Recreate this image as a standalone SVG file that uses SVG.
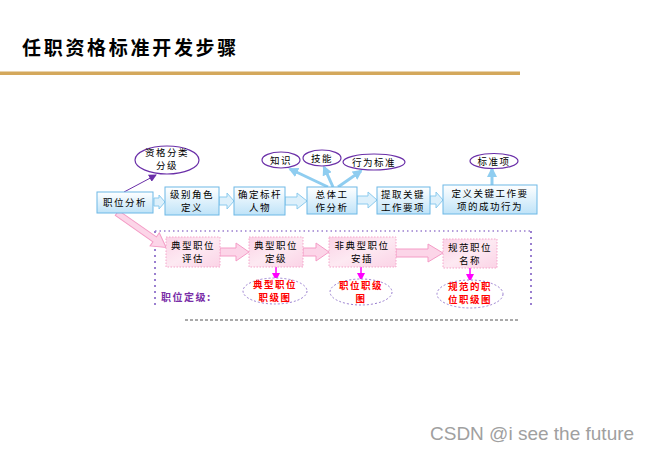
<svg xmlns="http://www.w3.org/2000/svg" width="650" height="450" viewBox="0 0 650 450">
<defs>
<linearGradient id="gb" x1="0" y1="0" x2="0" y2="1"><stop offset="0" stop-color="#FFFFFF"/><stop offset="1" stop-color="#BFE3F8"/></linearGradient>
<linearGradient id="gp" x1="0" y1="0" x2="1" y2="1"><stop offset="0" stop-color="#FBD3E6"/><stop offset="0.5" stop-color="#FDE9F2"/><stop offset="1" stop-color="#FBD3E6"/></linearGradient>
<marker id="mp" markerWidth="8" markerHeight="8" refX="7" refY="4" orient="auto" markerUnits="userSpaceOnUse"><path d="M0,0 L8,4 L0,8 Z" fill="#6A2FA8"/></marker>
<marker id="mb" markerWidth="10" markerHeight="10" refX="8" refY="5" orient="auto" markerUnits="userSpaceOnUse"><path d="M0,0 L10,5 L0,10 Z" fill="#8FCDF0"/></marker>
<marker id="mm" markerWidth="8" markerHeight="8" refX="6" refY="4" orient="auto" markerUnits="userSpaceOnUse"><path d="M0,0 L8,4 L0,8 Z" fill="#FF00FF"/></marker>
</defs>
<style>
text{font-family:"Noto Sans CJK SC","Liberation Sans",sans-serif;text-anchor:middle;}
.t{font-size:9.5px;fill:#000;letter-spacing:1.5px;}
.r{font-size:9.5px;fill:#FF0000;font-weight:bold;letter-spacing:1.5px;}
.bb{fill:url(#gb);stroke:#6DB8E6;stroke-width:1;}
.pb{fill:url(#gp);stroke:#F4A6CB;stroke-width:1;stroke-dasharray:1.5 1.5;}
.ba{fill:#DDF0FB;stroke:#8CCBEE;stroke-width:1;}
.pa{fill:#FCD5E8;stroke:#F49CC6;stroke-width:1;}
.el{fill:#FFFFFF;stroke:#6A2FA8;stroke-width:1.2;}
.ed{fill:#FFFFFF;stroke:#9A7FD0;stroke-width:1;stroke-dasharray:2 2;}
.bl{stroke:#8FCDF0;stroke-width:3;fill:none;}
</style>
<rect width="650" height="450" fill="#FFFFFF"/>
<g id="title">
<text x="22" y="55" style="text-anchor:start;font-size:19px;font-weight:bold;letter-spacing:2.7px;fill:#000;font-family:'Noto Sans CJK SC',serif">任职资格标准开发步骤</text>
<rect x="0" y="71.5" width="520" height="3.5" fill="#D4A85C"/>
</g>
<g id="frame">
<path d="M155,231 H531" stroke="#9A7FD0" stroke-width="1.5" stroke-dasharray="1.5 3" fill="none"/>
<path d="M155,231 V308" stroke="#9A7FD0" stroke-width="2" stroke-dasharray="2 4" fill="none"/>
<path d="M531,231 V309" stroke="#9A7FD0" stroke-width="2" stroke-dasharray="2 4" fill="none"/>
<path d="M185,320 H518" stroke="#555" stroke-width="1" stroke-dasharray="3 2" fill="none"/>
</g>
<g id="connectors">
<path d="M154,198 H159 V195 L165,202 L159,209 V206 H154 Z" class="ba"/>
<path d="M219,197 H227 V193 L234,201 L227,209 V205 H219 Z" class="ba"/>
<path d="M285,197 H297 V193 L307,201 L297,209 V205 H285 Z" class="ba"/>
<path d="M357,196 H368 V192 L377,200 L368,208 V204 H357 Z" class="ba"/>
<path d="M430,196 H436 V192 L443,200 L436,208 V204 H430 Z" class="ba"/>
<line x1="124" y1="192" x2="156" y2="175" stroke="#6A2FA8" stroke-width="1" marker-end="url(#mp)"/>
<line x1="328" y1="187" x2="290" y2="169" class="bl" marker-end="url(#mb)"/>
<line x1="333" y1="187" x2="324" y2="167" class="bl" marker-end="url(#mb)"/>
<line x1="338" y1="187" x2="361" y2="171" class="bl" marker-end="url(#mb)"/>
<line x1="492" y1="185" x2="492" y2="169" class="bl" marker-end="url(#mb)"/>
<path d="M0,-3 H46 V-8 L60,0 L46,8 V3 H0 Z" class="pa" transform="translate(117,213) rotate(35)"/>
<path d="M220,248 H236 V243 L249,252 L236,261 V256 H220 Z" class="pa"/>
<path d="M303,248 H316 V243 L329,252 L316,261 V256 H303 Z" class="pa"/>
<path d="M396,249 H428 V244 L443,253 L428,262 V257 H396 Z" class="pa"/>
<line x1="276" y1="267" x2="276" y2="279" stroke="#FF00FF" stroke-width="1.5" marker-end="url(#mm)"/>
<line x1="361" y1="267" x2="361" y2="279" stroke="#FF00FF" stroke-width="1.5" marker-end="url(#mm)"/>
<line x1="470" y1="268" x2="470" y2="280" stroke="#FF00FF" stroke-width="1.5" marker-end="url(#mm)"/>
</g>
<g id="n1"><rect x="97" y="192" width="56" height="21" class="bb"/><text x="125" y="206" class="t">职位分析</text></g>
<g id="n2"><rect x="165" y="187" width="54" height="28" class="bb"/><text x="192" y="198" class="t">级别角色</text><text x="192" y="211" class="t">定义</text></g>
<g id="n3"><rect x="234" y="187" width="51" height="28" class="bb"/><text x="260" y="198" class="t">确定标杆</text><text x="260" y="211" class="t">人物</text></g>
<g id="n4"><rect x="307" y="187" width="50" height="27" class="bb"/><text x="332" y="198" class="t">总体工</text><text x="332" y="211" class="t">作分析</text></g>
<g id="n5"><rect x="377" y="187" width="53" height="27" class="bb"/><text x="403" y="198" class="t">提取关键</text><text x="403" y="211" class="t">工作要项</text></g>
<g id="n6"><rect x="443" y="185" width="94" height="29" class="bb"/><text x="490" y="197" class="t">定义关键工作要</text><text x="490" y="210" class="t">项的成功行为</text></g>
<g id="e1"><ellipse cx="167" cy="160" rx="32" ry="14" class="el"/><text x="167" y="156" class="t">资格分类</text><text x="167" y="169" class="t">分级</text></g>
<g id="e2"><ellipse cx="281" cy="160" rx="19" ry="8" class="el"/><text x="281" y="164" class="t">知识</text></g>
<g id="e3"><ellipse cx="322" cy="158" rx="19" ry="8" class="el"/><text x="322" y="162" class="t">技能</text></g>
<g id="e4"><ellipse cx="374" cy="162" rx="31" ry="8" class="el"/><text x="374" y="166" class="t">行为标准</text></g>
<g id="e5"><ellipse cx="494" cy="161" rx="24" ry="7.5" class="el"/><text x="494" y="165" class="t">标准项</text></g>
<g id="p1"><rect x="166" y="237" width="54" height="30" class="pb"/><text x="193" y="249" class="t">典型职位</text><text x="193" y="262" class="t">评估</text></g>
<g id="p2"><rect x="249" y="237" width="54" height="30" class="pb"/><text x="276" y="249" class="t">典型职位</text><text x="276" y="262" class="t">定级</text></g>
<g id="p3"><rect x="329" y="237" width="67" height="30" class="pb"/><text x="362" y="249" class="t">非典型职位</text><text x="362" y="262" class="t">安插</text></g>
<g id="p4"><rect x="443" y="239" width="54" height="29" class="pb"/><text x="470" y="251" class="t">规范职位</text><text x="470" y="264" class="t">名称</text></g>
<g id="r1"><ellipse cx="275" cy="291" rx="32" ry="13" class="ed"/><text x="275" y="288" class="r">典型职位</text><text x="275" y="301" class="r">职级图</text></g>
<g id="r2"><ellipse cx="361" cy="292" rx="31" ry="13" class="ed"/><text x="361" y="289" class="r">职位职级</text><text x="361" y="302" class="r">图</text></g>
<g id="r3"><ellipse cx="470" cy="294" rx="33" ry="14" class="ed"/><text x="470" y="290" class="r">规范的职</text><text x="470" y="303" class="r">位职级图</text></g>
<g id="lbl"><text x="161" y="301" style="text-anchor:start;font-size:10px;font-weight:bold;fill:#7A2FA8;letter-spacing:1.5px">职位定级:</text></g>
<text x="430" y="440" style="text-anchor:start;font-size:19px;fill:#A0A0A0;font-family:'Liberation Sans',sans-serif">CSDN @i see the future</text>
</svg>
